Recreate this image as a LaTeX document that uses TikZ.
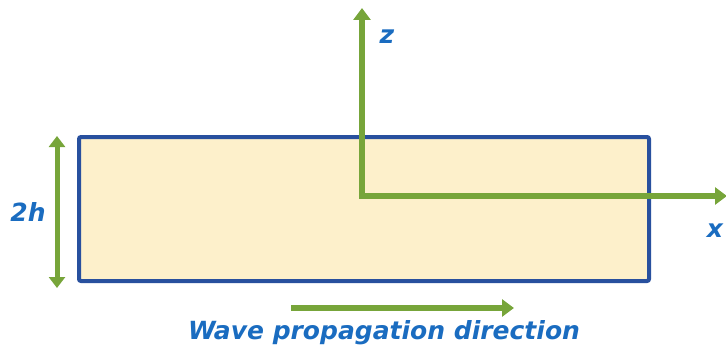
\documentclass[tikz,border=0pt]{standalone}
\usepackage{fontspec}
\setmainfont{DejaVu Sans}
\usetikzlibrary{arrows.meta}
\definecolor{grn}{RGB}{119,165,58}
\definecolor{bdr}{RGB}{40,80,158}
\definecolor{fil}{RGB}{253,240,203}
\definecolor{txt}{RGB}{26,108,192}
\tikzset{
  axis/.style={draw=grn, line width=5.5pt, line cap=rect, -{Triangle[width=17pt,length=12pt]}},
  dim/.style={draw=grn, line width=5pt, {Triangle[width=16pt,length=11pt]}-{Triangle[width=16pt,length=11pt]}},
  lbl/.style={text=txt, font=\bfseries\itshape\fontsize{25}{29}\selectfont, inner sep=0pt},
}
\begin{document}
\begin{tikzpicture}[x=1pt,y=-1pt]
\useasboundingbox (0,0) rectangle (726,353);
\node[draw=bdr, fill=fil, line width=4pt, rounded corners=2pt, minimum width=570pt, minimum height=144pt, inner sep=0pt] (slab) at (364,209) {};
\coordinate (o) at (362,196);
\coordinate (ztip) at (362,8);
\coordinate (xtip) at (727,196);
\coordinate (ha) at (57,136);
\coordinate (hb) at (57,288);
\coordinate (wa) at (294,308);
\coordinate (wb) at (514,308);
\draw[axis] (o) -- (ztip);
\draw[axis] (o) -- (xtip);
\draw[dim] (ha) -- (hb);
\draw[axis] (wa) -- (wb);
\node[lbl] (zl) at (387,37) {z};
\node[lbl] (xl) at (715,231) {x};
\node[lbl] (hl) at (28,212) {2h};
\node[lbl] (wl) at (384,333) {Wave propagation direction};
\end{tikzpicture}
\end{document}
